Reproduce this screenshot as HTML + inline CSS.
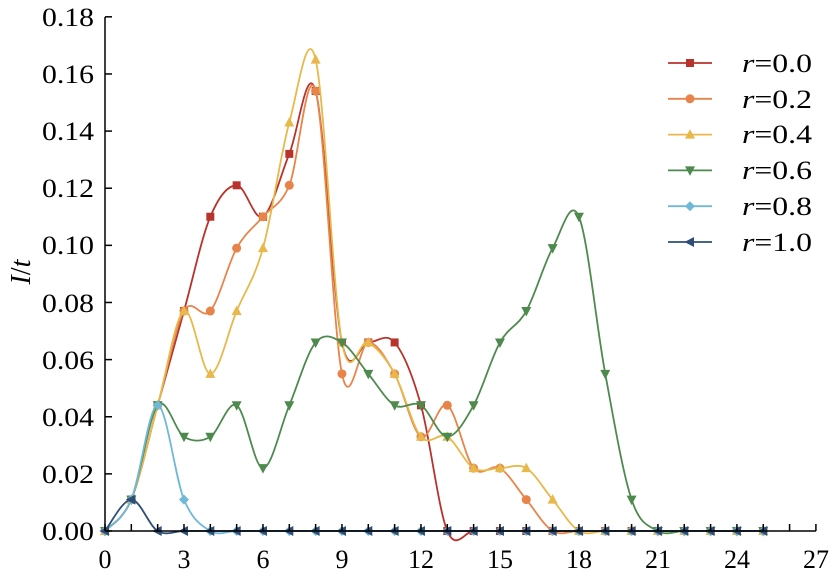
<!DOCTYPE html>
<html><head><meta charset="utf-8"><style>
html,body{margin:0;padding:0;background:#fff;}
svg text{font-family:"Liberation Serif",serif;font-size:26px;fill:#000;}
</style></head><body>
<svg id="s" width="838" height="576" viewBox="0 0 838 576" xmlns="http://www.w3.org/2000/svg">
<g id="plot"></g>
<line x1="105" y1="17" x2="105" y2="531" stroke="#000" stroke-width="1.5"/>
<line x1="105" y1="531" x2="816" y2="531" stroke="#000" stroke-width="1.5"/>
<g id="ticks" stroke="#000" stroke-width="1.5"></g>
<g text-anchor="end" style="font-size:27px">
<text x="94" y="540" textLength="52" lengthAdjust="spacingAndGlyphs">0.00</text>
<text x="94" y="483" textLength="52" lengthAdjust="spacingAndGlyphs">0.02</text>
<text x="94" y="426" textLength="52" lengthAdjust="spacingAndGlyphs">0.04</text>
<text x="94" y="369" textLength="52" lengthAdjust="spacingAndGlyphs">0.06</text>
<text x="94" y="312" textLength="52" lengthAdjust="spacingAndGlyphs">0.08</text>
<text x="94" y="254" textLength="52" lengthAdjust="spacingAndGlyphs">0.10</text>
<text x="94" y="197" textLength="52" lengthAdjust="spacingAndGlyphs">0.12</text>
<text x="94" y="140" textLength="52" lengthAdjust="spacingAndGlyphs">0.14</text>
<text x="94" y="83" textLength="52" lengthAdjust="spacingAndGlyphs">0.16</text>
<text x="94" y="26" textLength="52" lengthAdjust="spacingAndGlyphs">0.18</text></g>
<g text-anchor="middle" style="font-size:30px">
<text x="105" y="568">0</text><text x="184" y="568">3</text><text x="263" y="568">6</text>
<text x="342" y="568">9</text><text x="421" y="568">12</text><text x="500" y="568">15</text>
<text x="579" y="568">18</text><text x="658" y="568">21</text><text x="737" y="568">24</text>
<text x="816" y="568">27</text></g>
<text transform="translate(30,272) rotate(-90)" text-anchor="middle" style="font-size:28px"><tspan font-style="italic">I</tspan>/<tspan font-style="italic">t</tspan></text>
<g id="leg"></g>
<g style="font-size:25px">
<text x="742" y="72" textLength="70" lengthAdjust="spacingAndGlyphs"><tspan font-style="italic">r</tspan>=0.0</text>
<text x="742" y="108" textLength="70" lengthAdjust="spacingAndGlyphs"><tspan font-style="italic">r</tspan>=0.2</text>
<text x="742" y="143" textLength="70" lengthAdjust="spacingAndGlyphs"><tspan font-style="italic">r</tspan>=0.4</text>
<text x="742" y="179" textLength="70" lengthAdjust="spacingAndGlyphs"><tspan font-style="italic">r</tspan>=0.6</text>
<text x="742" y="215" textLength="70" lengthAdjust="spacingAndGlyphs"><tspan font-style="italic">r</tspan>=0.8</text>
<text x="742" y="251" textLength="70" lengthAdjust="spacingAndGlyphs"><tspan font-style="italic">r</tspan>=1.0</text>
</g>
</svg>
<script>
var NS="http://www.w3.org/2000/svg";
function X(v){return 105+26.33*v;}
function Y(v){return 531-v*2857;}
var t=document.getElementById('ticks');
for(var i=0;i<=27;i++){var l=document.createElementNS(NS,'line');l.setAttribute('x1',X(i));l.setAttribute('x2',X(i));l.setAttribute('y1',531);l.setAttribute('y2',524);t.appendChild(l);}
for(var j=0;j<=9;j++){var l=document.createElementNS(NS,'line');l.setAttribute('x1',105);l.setAttribute('x2',112);l.setAttribute('y1',531-j*57.13);l.setAttribute('y2',531-j*57.13);t.appendChild(l);}
function pad(a){while(a.length<26)a.push(0);return a;}
var S=[
{c:"#b8332b",m:"sq",d:pad([0,.011,.044,.077,.110,.121,.110,.132,.154,.066,.066,.066,.044,0,0])},
{c:"#e8834a",m:"ci",d:pad([0,.011,.044,.077,.077,.099,.110,.121,.154,.055,.066,.055,.033,.044,.022,.022,.011,0])},
{c:"#e8b84a",m:"tu",d:pad([0,.011,.044,.077,.055,.077,.099,.143,.165,.066,.066,.055,.033,.033,.022,.022,.022,.011,0])},
{c:"#4e8a4e",m:"td",d:pad([0,.011,.044,.033,.033,.044,.022,.044,.066,.066,.055,.044,.044,.033,.044,.066,.077,.099,.110,.055,.011,0])},
{c:"#70b8d8",m:"di",d:pad([0,.011,.044,.011,0])},
{c:"#2e4e78",m:"tl",d:pad([0,.011,0,0])}
];
function marker(g,type,x,y,c){
var e;
if(type=="sq"){e=document.createElementNS(NS,'rect');e.setAttribute('x',x-4);e.setAttribute('y',y-4);e.setAttribute('width',8);e.setAttribute('height',8);}
else if(type=="ci"){e=document.createElementNS(NS,'circle');e.setAttribute('cx',x);e.setAttribute('cy',y);e.setAttribute('r',4.5);}
else{e=document.createElementNS(NS,'polygon');var p;
if(type=="tu")p=[[x,y-5.5],[x+5,y+4],[x-5,y+4]];
if(type=="td")p=[[x,y+5.5],[x+5,y-4],[x-5,y-4]];
if(type=="di")p=[[x,y-5],[x+5,y],[x,y+5],[x-5,y]];
if(type=="tl")p=[[x-5.5,y],[x+4,y-5],[x+4,y+5]];
e.setAttribute('points',p.map(function(q){return q.join(',')}).join(' '));}
e.setAttribute('fill',c);g.appendChild(e);}
var plot=document.getElementById('plot');
S.forEach(function(s){
var P=s.d.map(function(v,i){return [X(i),Y(v)];});
var d="M"+P[0][0]+","+P[0][1];
for(var i=0;i<P.length-1;i++){
var p0=P[Math.max(i-1,0)],p1=P[i],p2=P[i+1],p3=P[Math.min(i+2,P.length-1)];
var c1=[p1[0]+(p2[0]-p0[0])/6,p1[1]+(p2[1]-p0[1])/6],c2=[p2[0]-(p3[0]-p1[0])/6,p2[1]-(p3[1]-p1[1])/6];
d+=" C"+c1+" "+c2+" "+p2;}
var pa=document.createElementNS(NS,'path');pa.setAttribute('d',d);pa.setAttribute('fill','none');pa.setAttribute('stroke',s.c);pa.setAttribute('stroke-width',1.8);plot.appendChild(pa);
P.forEach(function(p){marker(plot,s.m,p[0],p[1],s.c);});
});
var leg=document.getElementById('leg');
S.forEach(function(s,k){var y=63+k*35.8;var l=document.createElementNS(NS,'line');l.setAttribute('x1',668);l.setAttribute('x2',712);l.setAttribute('y1',y);l.setAttribute('y2',y);l.setAttribute('stroke',s.c);l.setAttribute('stroke-width',1.8);leg.appendChild(l);marker(leg,s.m,690,y,s.c);});
</script>
</body></html>
